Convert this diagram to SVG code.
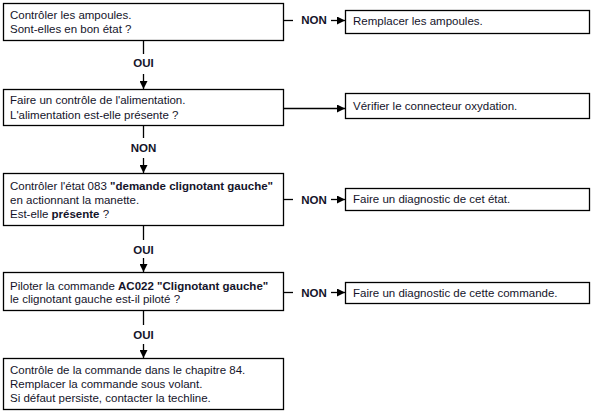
<svg xmlns="http://www.w3.org/2000/svg" width="593" height="413" viewBox="0 0 593 413">
<style>
  .box{fill:#fff;stroke:#000;stroke-width:1.3}
  .t{font-family:"Liberation Sans",Arial,sans-serif;font-size:11.5px;fill:#14142a}
  .b{font-weight:bold}
  .lbl{font-family:"Liberation Sans",Arial,sans-serif;font-size:11.5px;font-weight:bold;fill:#14142a;text-anchor:middle}
  .c{stroke:#000;stroke-width:1.3;fill:none}
</style>
<defs>
  <marker id="ah" viewBox="0 0 10 10" refX="10" refY="5" markerWidth="8" markerHeight="8" markerUnits="userSpaceOnUse" orient="auto">
    <path d="M0,0 L10,5 L0,10 Z" fill="#000"/>
  </marker>
</defs>
<rect width="593" height="413" fill="#fff"/>

<g id="n1">
  <rect class="box" x="3.5" y="3.5" width="280" height="37"/>
  <text class="t" x="10" y="19">Contrôler les ampoules.</text>
  <text class="t" x="10" y="33">Sont-elles en bon état ?</text>
</g>
<g id="r1">
  <rect class="box" x="345.5" y="10.5" width="244" height="23"/>
  <text class="t" x="353" y="25">Remplacer les ampoules.</text>
</g>
<g id="n2">
  <rect class="box" x="3.5" y="89.5" width="280" height="36"/>
  <text class="t" x="10" y="104">Faire un contrôle de l'alimentation.</text>
  <text class="t" x="10" y="119">L'alimentation est-elle présente ?</text>
</g>
<g id="r2">
  <rect class="box" x="345.5" y="93.5" width="244" height="25"/>
  <text class="t" x="353" y="110">Vérifier le connecteur oxydation.</text>
</g>
<g id="n3">
  <rect class="box" x="3.5" y="173.5" width="280" height="52"/>
  <text class="t" x="10" y="190">Contrôler l'état 083 <tspan class="b">"demande clignotant gauche"</tspan></text>
  <text class="t" x="10" y="204">en actionnant la manette.</text>
  <text class="t" x="10" y="218">Est-elle <tspan class="b">présente</tspan> ?</text>
</g>
<g id="r3">
  <rect class="box" x="345.5" y="188.5" width="244" height="22"/>
  <text class="t" x="353" y="203">Faire un diagnostic de cet état.</text>
</g>
<g id="n4">
  <rect class="box" x="3.5" y="272.5" width="280" height="38"/>
  <text class="t" x="10" y="290">Piloter la commande <tspan class="b">AC022 "Clignotant gauche"</tspan></text>
  <text class="t" x="10" y="303">le clignotant gauche est-il piloté ?</text>
</g>
<g id="r4">
  <rect class="box" x="345.5" y="282.5" width="244" height="21"/>
  <text class="t" x="353" y="297">Faire un diagnostic de cette commande.</text>
</g>
<g id="n5">
  <rect class="box" x="3.5" y="358.5" width="280" height="51"/>
  <text class="t" x="10" y="374">Contrôle de la commande dans le chapitre 84.</text>
  <text class="t" x="10" y="388">Remplacer la commande sous volant.</text>
  <text class="t" x="10" y="402">Si défaut persiste, contacter la techline.</text>
</g>

<g id="connectors">
  <!-- n1 -> r1 -->
  <path class="c" d="M283.5,20.5 H293"/>
  <text class="lbl" x="314" y="24">NON</text>
  <path class="c" d="M331,20.5 H345" marker-end="url(#ah)"/>
  <!-- n1 -> n2 -->
  <path class="c" d="M143.5,40.5 V54"/>
  <text class="lbl" x="143.5" y="67">OUI</text>
  <path class="c" d="M143.5,74 V89" marker-end="url(#ah)"/>
  <!-- n2 -> r2 -->
  <path class="c" d="M283.5,108.5 H345" marker-end="url(#ah)"/>
  <!-- n2 -> n3 -->
  <path class="c" d="M143.5,125.5 V138"/>
  <text class="lbl" x="143.5" y="152">NON</text>
  <path class="c" d="M143.5,158 V173" marker-end="url(#ah)"/>
  <!-- n3 -> r3 -->
  <path class="c" d="M283.5,199.5 H293"/>
  <text class="lbl" x="314" y="204">NON</text>
  <path class="c" d="M331,199.5 H345" marker-end="url(#ah)"/>
  <!-- n3 -> n4 -->
  <path class="c" d="M143.5,225.5 V240"/>
  <text class="lbl" x="143.5" y="254">OUI</text>
  <path class="c" d="M143.5,258 V272" marker-end="url(#ah)"/>
  <!-- n4 -> r4 -->
  <path class="c" d="M283.5,292.5 H293"/>
  <text class="lbl" x="314" y="297">NON</text>
  <path class="c" d="M331,292.5 H345" marker-end="url(#ah)"/>
  <!-- n4 -> n5 -->
  <path class="c" d="M143.5,310.5 V325"/>
  <text class="lbl" x="143.5" y="339">OUI</text>
  <path class="c" d="M143.5,344 V358" marker-end="url(#ah)"/>
</g>
</svg>
